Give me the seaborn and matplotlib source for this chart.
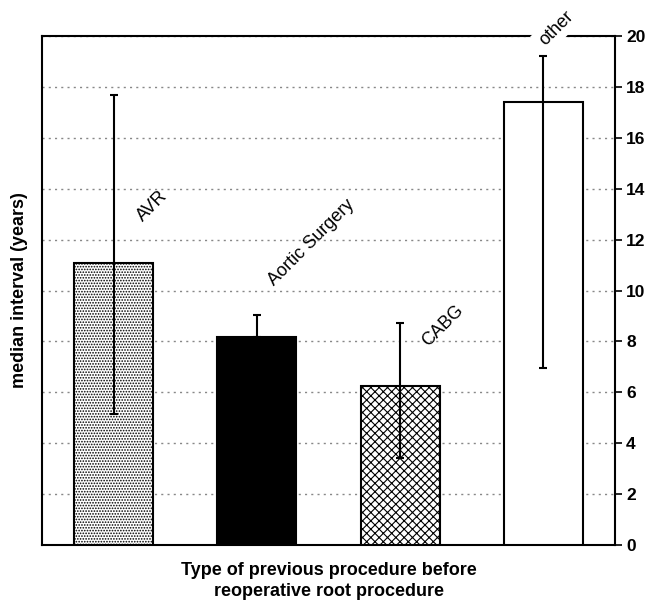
import matplotlib
matplotlib.use("Agg")
import matplotlib.pyplot as plt
import seaborn as sns
import numpy as np
import pandas as pd

categories = ["AVR", "Aortic Surgery", "CABG", "other"]
medians = [11.1, 8.17, 6.25, 17.4]
err_low = [5.15, 8.17, 3.42, 6.95]
err_high = [17.7, 9.02, 8.73, 19.2]
yticks = [0, 2, 4, 6, 8, 10, 12, 14, 16, 18, 20]

sns.set_theme(style="white")
plt.rcParams['font.family'] = ['Liberation Sans', 'DejaVu Sans']
plt.rcParams['hatch.linewidth'] = 0.8
plt.rcParams['text.color'] = 'black'
plt.rcParams['axes.labelcolor'] = 'black'

fig = plt.figure(figsize=(6.49, 6.12), dpi=100)
ax = fig.add_axes([0.0647, 0.1095, 0.883, 0.8315])

df = pd.DataFrame({"cat": categories, "val": medians})
face = ["white", "black", "white", "white"]
sns.barplot(data=df, x="cat", y="val", hue="cat", palette=face, legend=False,
            width=0.55, edgecolor="black", linewidth=1.5, ax=ax, zorder=3)
hatches = ["......", None, "xxxx", None]
for p, h in zip(ax.patches, hatches):
    if h:
        p.set_hatch(h)

x = np.arange(len(categories))
med = np.array(medians)
ax.errorbar(x, med, yerr=[med - np.array(err_low), np.array(err_high) - med],
            fmt="none", ecolor="black", elinewidth=1.5, capsize=3, capthick=1.5, zorder=4)

ax.set_xlim(-0.5, 3.5)
ax.set_ylim(0, 20)
ax.set_yticks(yticks)
ax.yaxis.tick_right()
ax.tick_params(axis="y", which="both", right=True, length=5, width=1.2, direction="out",
               labelsize=12.5, colors="black", pad=3)
for t in ax.get_yticklabels():
    t.set_fontweight("bold")
ax.set_xticks([])
ax.set_xlabel("Type of previous procedure before\nreoperative root procedure",
              fontsize=13, fontweight="bold", labelpad=12, linespacing=1.3)
ax.set_ylabel("median interval (years)", fontsize=13, fontweight="bold", labelpad=10)
ax.yaxis.set_label_position("left")
ax.grid(axis="y", linestyle=(0, (1.5, 3)), color="#888888", linewidth=1, zorder=0)
ax.set_axisbelow(True)
for s in ax.spines.values():
    s.set_visible(True)
    s.set_color("black")
    s.set_linewidth(1.5)

label_pos = [(0.27, 13.3), (1.38, 11.9), (2.30, 8.6), (3.09, 20.3)]
for cat, (lx, ly) in zip(categories, label_pos):
    kw = {}
    if cat == "other":
        kw = dict(bbox=dict(facecolor="white", edgecolor="none", pad=3), clip_on=False)
    ax.text(lx, ly, cat, rotation=45, ha="center", va="center", fontsize=13,
            rotation_mode="anchor", zorder=6, color="black", **kw)

fig.savefig("out.png", dpi=100)
